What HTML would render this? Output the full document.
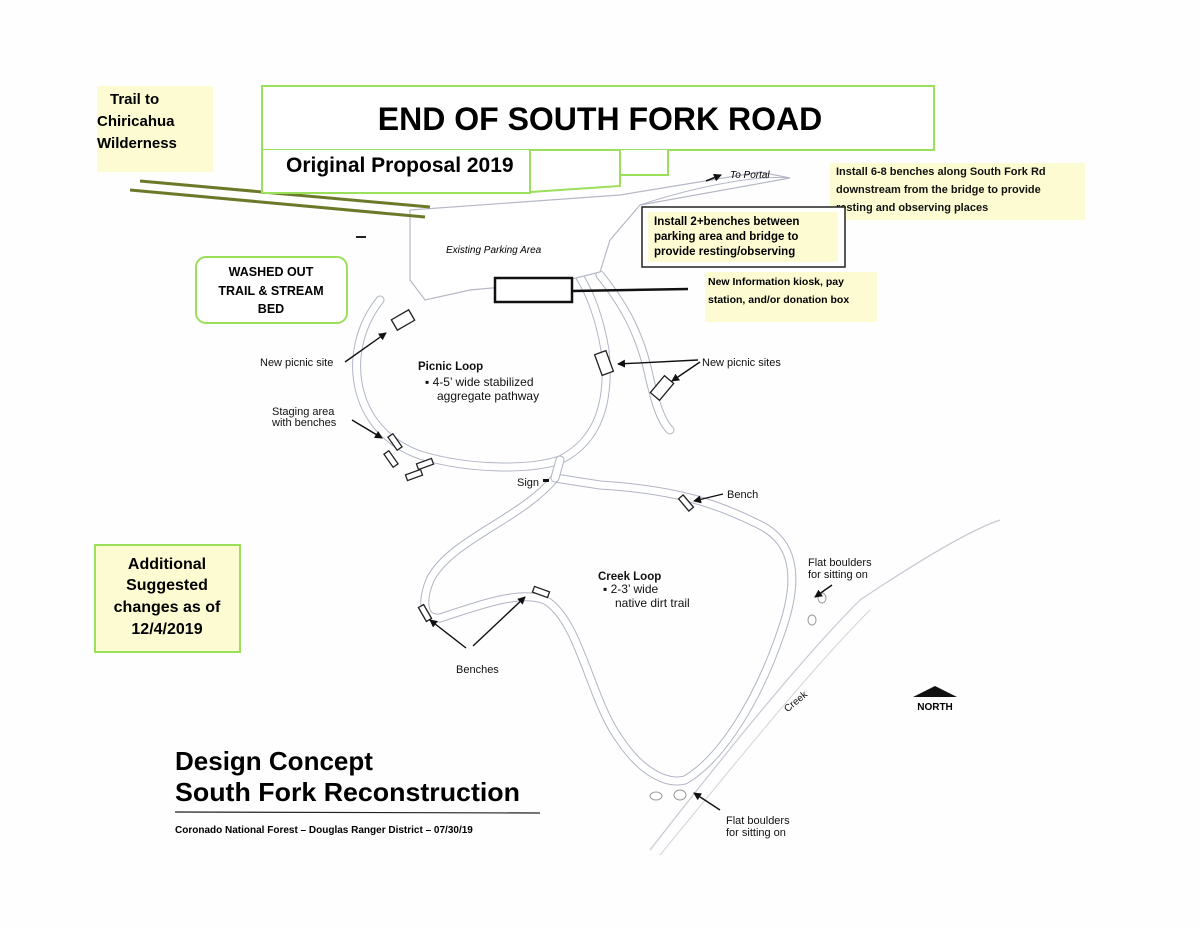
<!DOCTYPE html>
<html><head><meta charset="utf-8"><style>
body{margin:0;background:#fff;}
svg{display:block;font-family:"Liberation Sans",sans-serif;}
.b{font-weight:bold;}
.tr{fill:none;stroke:#b0b5c4;stroke-width:9;stroke-linecap:round;stroke-linejoin:round;}
.tw{fill:none;stroke:#fff;stroke-width:7;stroke-linecap:round;stroke-linejoin:round;}
</style></head><body>
<svg width="1200" height="927" viewBox="0 0 1200 927" xmlns="http://www.w3.org/2000/svg">
<rect width="1200" height="927" fill="#fefefe"/>
<defs><marker id="ah" markerWidth="8" markerHeight="8" refX="7" refY="4" orient="auto" markerUnits="userSpaceOnUse"><path d="M0,0 L8,4 L0,8 z" fill="#111"/></marker></defs>

<!-- trails -->
<g>
<path class="tr" d="M380,300 C340,350 350,430 420,455 C470,470 530,470 560,460 C600,440 610,400 605,350 C600,320 590,290 575,270"/>
<path class="tw" d="M380,300 C340,350 350,430 420,455 C470,470 530,470 560,460 C600,440 610,400 605,350 C600,320 590,290 575,270"/>
<path class="tr" d="M555,478 C520,520 450,540 430,580 C420,605 425,620 440,618 C480,605 520,590 545,600 C580,620 590,700 620,740 C640,770 665,785 685,780 C720,760 760,700 785,620 C800,570 790,540 760,525 C720,505 680,490 600,485 L555,478"/>
<path class="tw" d="M555,478 C520,520 450,540 430,580 C420,605 425,620 440,618 C480,605 520,590 545,600 C580,620 590,700 620,740 C640,770 665,785 685,780 C720,760 760,700 785,620 C800,570 790,540 760,525 C720,505 680,490 600,485 L555,478"/>
<path class="tr" d="M560,460 L555,478"/><path class="tw" d="M560,460 L555,478"/>
<path class="tr" d="M600,275 C620,300 640,330 650,380 C655,400 660,420 670,430"/>
<path class="tw" d="M600,275 C620,300 640,330 650,380 C655,400 660,420 670,430"/>
</g>
<!-- parking area -->
<path d="M410,210 L620,195 L760,172 L790,178 L640,205 L610,240 L600,272 L560,282 L470,290 L425,300 L410,280 Z" fill="#fff" stroke="#b5b9c6" stroke-width="1.2"/>
<path d="M640,205 C700,185 760,175 790,178" fill="none" stroke="#b5b9c6" stroke-width="1"/>
<!-- creek -->
<path d="M650,850 C720,760 800,660 860,600 C920,560 970,530 1000,520" fill="none" stroke="#c5c9d4" stroke-width="1.2"/>
<path d="M660,855 C730,770 810,670 870,610" fill="none" stroke="#d0d3dc" stroke-width="1"/>
<ellipse cx="656" cy="796" rx="6" ry="4" fill="none" stroke="#999"/>
<ellipse cx="680" cy="795" rx="6" ry="5" fill="none" stroke="#999"/>
<ellipse cx="812" cy="620" rx="4" ry="5" fill="none" stroke="#999"/>
<ellipse cx="822" cy="598" rx="4" ry="5" fill="none" stroke="#999"/>

<!-- green double lines -->
<line x1="140" y1="181" x2="430" y2="207" stroke="#6b7a2a" stroke-width="3"/>
<line x1="130" y1="190" x2="425" y2="217" stroke="#6b7a2a" stroke-width="3"/>
<line x1="356" y1="237" x2="366" y2="237" stroke="#222" stroke-width="2"/>

<!-- title box -->
<rect x="262" y="86" width="672" height="64" fill="#fff" stroke="#9be05a" stroke-width="2"/>
<text x="600" y="130" text-anchor="middle" class="b" font-size="32">END OF SOUTH FORK ROAD</text>
<path d="M262,150 L262,193 L530,193 L530,150" fill="#fff" stroke="#9be05a" stroke-width="2"/>
<path d="M530,150 L530,192 L620,186 L620,150 Z" fill="#fff" stroke="#9be05a" stroke-width="2"/>
<path d="M620,150 L620,175 L668,175 L668,150" fill="#fff" stroke="#9be05a" stroke-width="2"/>
<text x="286" y="172" class="b" font-size="21">Original Proposal 2019</text>

<!-- Trail to Chiricahua -->
<rect x="97" y="86" width="116" height="86" fill="#fdfbd2"/>
<text class="b" font-size="15"><tspan x="110" y="104">Trail to</tspan><tspan x="97" y="126">Chiricahua</tspan><tspan x="97" y="148">Wilderness</tspan></text>

<!-- washed out -->
<rect x="196" y="257" width="151" height="66" rx="10" fill="#fff" stroke="#9be05a" stroke-width="2"/>
<text class="b" font-size="12.5" text-anchor="middle"><tspan x="271" y="276">WASHED OUT</tspan><tspan x="271" y="295">TRAIL &amp; STREAM</tspan><tspan x="271" y="313">BED</tspan></text>

<text x="446" y="253" font-style="italic" font-size="10">Existing Parking Area</text>
<line x1="706" y1="181" x2="721" y2="175" stroke="#111" stroke-width="1.5" marker-end="url(#ah)"/>
<text x="730" y="178" font-style="italic" font-size="10">To Portal</text>

<!-- install 6-8 -->
<rect x="830" y="163" width="255" height="57" fill="#fdfbd2"/>
<text class="b" font-size="11" fill="#111"><tspan x="836" y="175">Install 6-8 benches along South Fork Rd</tspan><tspan x="836" y="193">downstream from the bridge to provide</tspan><tspan x="836" y="211">resting and observing places</tspan></text>
<!-- install 2+ -->
<rect x="642" y="207" width="203" height="60" fill="#fff" stroke="#222" stroke-width="1.5"/>
<rect x="648" y="212" width="190" height="50" fill="#fdfbd2"/>
<text class="b" font-size="11.5"><tspan x="654" y="225">Install 2+benches between</tspan><tspan x="654" y="240">parking area and bridge to</tspan><tspan x="654" y="255">provide resting/observing</tspan></text>
<!-- kiosk -->
<rect x="705" y="272" width="172" height="50" fill="#fdfbd2"/>
<text class="b" font-size="10.5"><tspan x="708" y="285">New Information kiosk, pay</tspan><tspan x="708" y="303">station, and/or donation box</tspan></text>
<rect x="495" y="278" width="77" height="24" fill="#fff" stroke="#111" stroke-width="2.5"/>
<line x1="572" y1="291" x2="688" y2="289" stroke="#111" stroke-width="2.5"/>

<!-- picnic sites -->
<g fill="#fff" stroke="#222" stroke-width="1.3">
<rect x="-10" y="-6" width="20" height="12" transform="translate(403,320) rotate(-30)"/>
<rect x="-6" y="-11" width="12" height="22" transform="translate(604,363) rotate(-20)"/>
<rect x="-6" y="-11" width="12" height="22" transform="translate(662,388) rotate(40)"/>
<rect x="-3" y="-8" width="6" height="16" transform="translate(395,442) rotate(-35)"/>
<rect x="-3" y="-8" width="6" height="16" transform="translate(391,459) rotate(-35)"/>
<rect x="-8" y="-3" width="16" height="6" transform="translate(425,464) rotate(-20)"/>
<rect x="-8" y="-3" width="16" height="6" transform="translate(414,475) rotate(-20)"/>
<rect x="-3" y="-8" width="6" height="16" transform="translate(686,503) rotate(-40)"/>
<rect x="-3" y="-8" width="6" height="16" transform="translate(425,613) rotate(-30)"/>
<rect x="-8" y="-3" width="16" height="6" transform="translate(541,592) rotate(20)"/>
</g>
<rect x="543" y="479" width="6" height="3" fill="#111"/>

<g stroke="#111" stroke-width="1.4" marker-end="url(#ah)" fill="none">
<line x1="345" y1="362" x2="386" y2="333"/>
<line x1="698" y1="360" x2="618" y2="364"/>
<line x1="700" y1="362" x2="672" y2="381"/>
<line x1="352" y1="420" x2="382" y2="438"/>
<line x1="723" y1="494" x2="694" y2="501"/>
<line x1="466" y1="648" x2="430" y2="620"/>
<line x1="473" y1="646" x2="525" y2="597"/>
<line x1="832" y1="585" x2="815" y2="597"/>
<line x1="720" y1="810" x2="694" y2="793"/>
</g>

<g font-size="11" fill="#111">
<text x="260" y="366">New picnic site</text>
<text x="702" y="366">New picnic sites</text>
<text x="272" y="415">Staging area</text><text x="272" y="426">with benches</text>
<text x="517" y="486">Sign</text>
<text x="727" y="498">Bench</text>
<text x="456" y="673">Benches</text>
<text x="808" y="566">Flat boulders</text><text x="808" y="578">for sitting on</text>
<text x="726" y="824">Flat boulders</text><text x="726" y="836">for sitting on</text>
<text x="780" y="708" font-size="10" transform="rotate(-40 790 700)">Creek</text>
<text x="418" y="370" class="b" font-size="11.5">Picnic Loop</text>
<text x="425" y="386" font-size="12">▪ 4-5’ wide stabilized</text>
<text x="437" y="400" font-size="12">aggregate pathway</text>
<text x="598" y="580" class="b" font-size="11.5">Creek Loop</text>
<text x="603" y="593" font-size="12">▪ 2-3’ wide</text>
<text x="615" y="607" font-size="12">native dirt trail</text>
</g>

<!-- Additional -->
<rect x="95" y="545" width="145" height="107" fill="#fdfbd2" stroke="#9be05a" stroke-width="2"/>
<text class="b" font-size="16" text-anchor="middle"><tspan x="167" y="569">Additional</tspan><tspan x="167" y="590">Suggested</tspan><tspan x="167" y="612">changes as of</tspan><tspan x="167" y="634">12/4/2019</tspan></text>

<!-- north -->
<path d="M913,697 L935,686 L957,697 Z" fill="#111"/>
<text x="935" y="710" text-anchor="middle" class="b" font-size="10">NORTH</text>

<!-- design concept -->
<text x="175" y="770" class="b" font-size="26">Design Concept</text>
<text x="175" y="801" class="b" font-size="26" textLength="345" lengthAdjust="spacingAndGlyphs">South Fork Reconstruction</text>
<line x1="175" y1="812" x2="540" y2="813" stroke="#222" stroke-width="1.2"/>
<text x="175" y="833" class="b" font-size="10">Coronado National Forest – Douglas Ranger District – 07/30/19</text>
</svg>
</body></html>
